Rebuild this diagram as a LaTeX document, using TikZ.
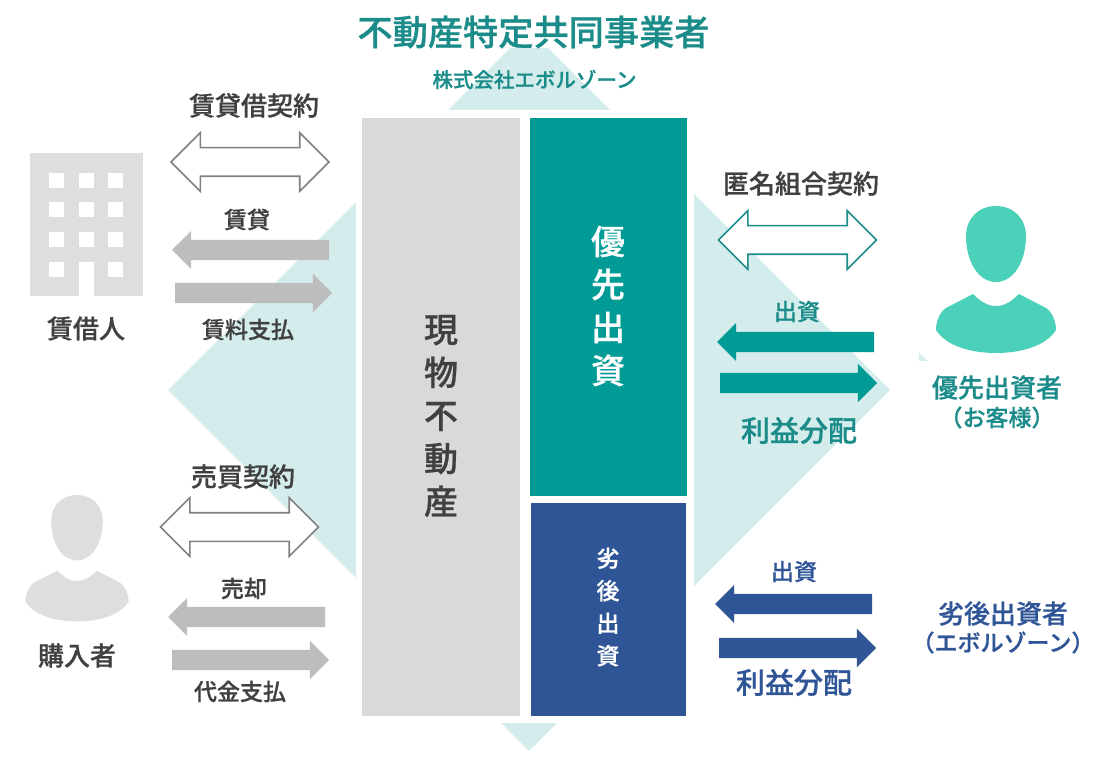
\documentclass[tikz,border=0pt]{standalone}
\usepackage{fontspec}
\setmainfont[FakeBold=0.7]{Noto Sans CJK JP Medium}
\usetikzlibrary{shapes.arrows}
\definecolor{bgteal}{HTML}{D5ECEC}
\definecolor{boxgray}{HTML}{D9D9D9}
\definecolor{boxteal}{HTML}{009B95}
\definecolor{boxnavy}{HTML}{2F5597}
\definecolor{arrowgray}{HTML}{BDBDBD}
\definecolor{linegray}{HTML}{808080}
\definecolor{txtgray}{HTML}{404040}
\definecolor{txtteal}{HTML}{1B8C8A}
\definecolor{iconteal}{HTML}{4BD0BA}
\definecolor{icongray}{HTML}{DDDEDE}
\newcommand{\jpsize}[2]{\fontsize{#1}{#2}\selectfont}
\tikzset{
    txt/.style={inner sep=0pt,text=txtgray,font=\jpsize{#1}{#1}},
    tealtxt/.style={txt=#1,text=txtteal},
    navytxt/.style={txt=#1,text=boxnavy},
    column/.style={minimum width=#1,inner sep=0pt,align=center},
    blockarrow/.style={single arrow,single arrow head extend=9pt,minimum width=38pt,
        inner sep=0pt,inner ysep=10pt,outer sep=0pt,anchor=tail,minimum height=157pt},
    toleft/.style={blockarrow,shape border rotate=180,fill=#1},
    toright/.style={blockarrow,fill=#1},
    twoway/.style={double arrow,double arrow head extend=15pt,minimum width=57pt,
        inner sep=0pt,inner ysep=13.5pt,outer sep=0pt,minimum height=158pt,
        draw=#1,line width=1.6pt,fill=white},
    person/.pic={
        \fill (0,0) .. controls (-18,0) and (-30,13) .. (-30,30)
            .. controls (-30,55) and (-18,76) .. (0,76)
            .. controls (18,76) and (30,55) .. (30,30)
            .. controls (30,13) and (18,0) .. (0,0) -- cycle;
        \fill (-23,88) .. controls (-15,96) and (-8,100) .. (0,100)
            .. controls (8,100) and (15,96) .. (23,88) -- (50,102)
            .. controls (56,106) and (60,115) .. (60,124)
            .. controls (50,140) and (25,147) .. (0,147)
            .. controls (-25,147) and (-50,140) .. (-60,124)
            .. controls (-60,115) and (-56,106) .. (-50,102) -- cycle;
    }
}
\begin{document}
\begin{tikzpicture}[x=1pt,y=-1pt]
    \useasboundingbox (0,0) rectangle (1112,759);
    % background
    \fill[bgteal] (529,29) -- (890,390) -- (529,751) -- (168,390) -- cycle;
    \fill[white] (356,110) rectangle (694,723);
    \fill[bgteal] (919,353) -- (928,361) -- (919,361) -- cycle;
    \node[tealtxt=35.2,fill=white] (operator) at (533.5,32) {不動産特定共同事業者};
    \node[tealtxt=20.5] (company) at (534.5,79.5) {株式会社エボルゾーン};

    % central columns
    \node[fill=boxgray,minimum width=158pt,minimum height=598pt,inner sep=0pt] (asset) at (441,417) {};
    \node[fill=boxteal,minimum width=157pt,minimum height=378pt,inner sep=0pt] (senior) at (608.5,307) {};
    \node[fill=boxnavy,minimum width=155pt,minimum height=213pt,inner sep=0pt] (junior) at (608.5,609.5) {};
    \node[txt=34,column=40pt,font=\jpsize{34}{43}] (assettxt) at (441,416) {現\\物\\不\\動\\産};
    \node[txt=34,text=white,column=40pt,font=\jpsize{34}{43}] (seniortxt) at (608,306) {優\\先\\出\\資};
    \node[txt=22,text=white,column=30pt,font=\jpsize{23}{32.5}] (juniortxt) at (608,607) {劣\\後\\出\\資};

    % building
    \node[fill=icongray,minimum width=113pt,minimum height=143pt,inner sep=0pt] (building) at (86.5,224.5) {};
    \foreach \x in {49,79,108}
        \foreach \y in {173,202,232}
            \fill[white] (\x,\y) rectangle ++(15,15);
    \foreach \x in {49,108}
        \fill[white] (\x,262) rectangle ++(15,15);
    \fill[white] (79,262) rectangle (94,296);
    \node[txt=26] (tenant) at (86,328.5) {賃借人};
    \pic[icongray,scale=.86] at (77,495) {person};
    \node[txt=26] (buyer) at (77,655.5) {購入者};
    \pic[iconteal] at (996,206) {person};
    \node[tealtxt=26] (seniorinv) at (997,387.5) {優先出資者};
    \node[tealtxt=23] (customer) at (997,417.5) {（お客様）};
    \node[navytxt=26] (juniorinv) at (1003,613.5) {劣後出資者};
    \node[navytxt=23] (evolzone) at (1003,642.5) {（エボルゾーン）};

    % left arrows
    \node[twoway=linegray] (lease) at (250,162) {};
    \node[txt=26] (leasetxt) at (254,105.5) {賃貸借契約};
    \node[toleft=arrowgray] (rent) at (329,250) {};
    \node[txt=23] (renttxt) at (247,219.5) {賃貸};
    \node[toright=arrowgray] (rentpay) at (175,293) {};
    \node[txt=23] (rentpaytxt) at (248,329.5) {賃料支払};
    \node[twoway=linegray] (sale) at (239.5,527) {};
    \node[txt=26] (saletxt) at (243,476.5) {売買契約};
    \node[toleft=arrowgray] (sell) at (325,617) {};
    \node[txt=23] (selltxt) at (244,588.5) {売却};
    \node[toright=arrowgray] (price) at (172,660) {};
    \node[txt=23] (pricetxt) at (240,691.5) {代金支払};

    % right arrows
    \node[twoway=txtteal] (silent) at (797.5,240) {};
    \node[txt=26] (silenttxt) at (801,183.5) {匿名組合契約};
    \node[toleft=boxteal] (seniorin) at (874,342) {};
    \node[tealtxt=23] (seniorintxt) at (797,311.5) {出資};
    \node[toright=boxteal] (seniorout) at (720,383) {};
    \node[tealtxt=29] (seniorouttxt) at (799,430.5) {利益分配};
    \node[toleft=boxnavy] (juniorin) at (872,604) {};
    \node[navytxt=23] (juniorintxt) at (794,571.5) {出資};
    \node[toright=boxnavy] (juniorout) at (719,648) {};
    \node[navytxt=29] (juniorouttxt) at (794,682.5) {利益分配};
\end{tikzpicture}
\end{document}
